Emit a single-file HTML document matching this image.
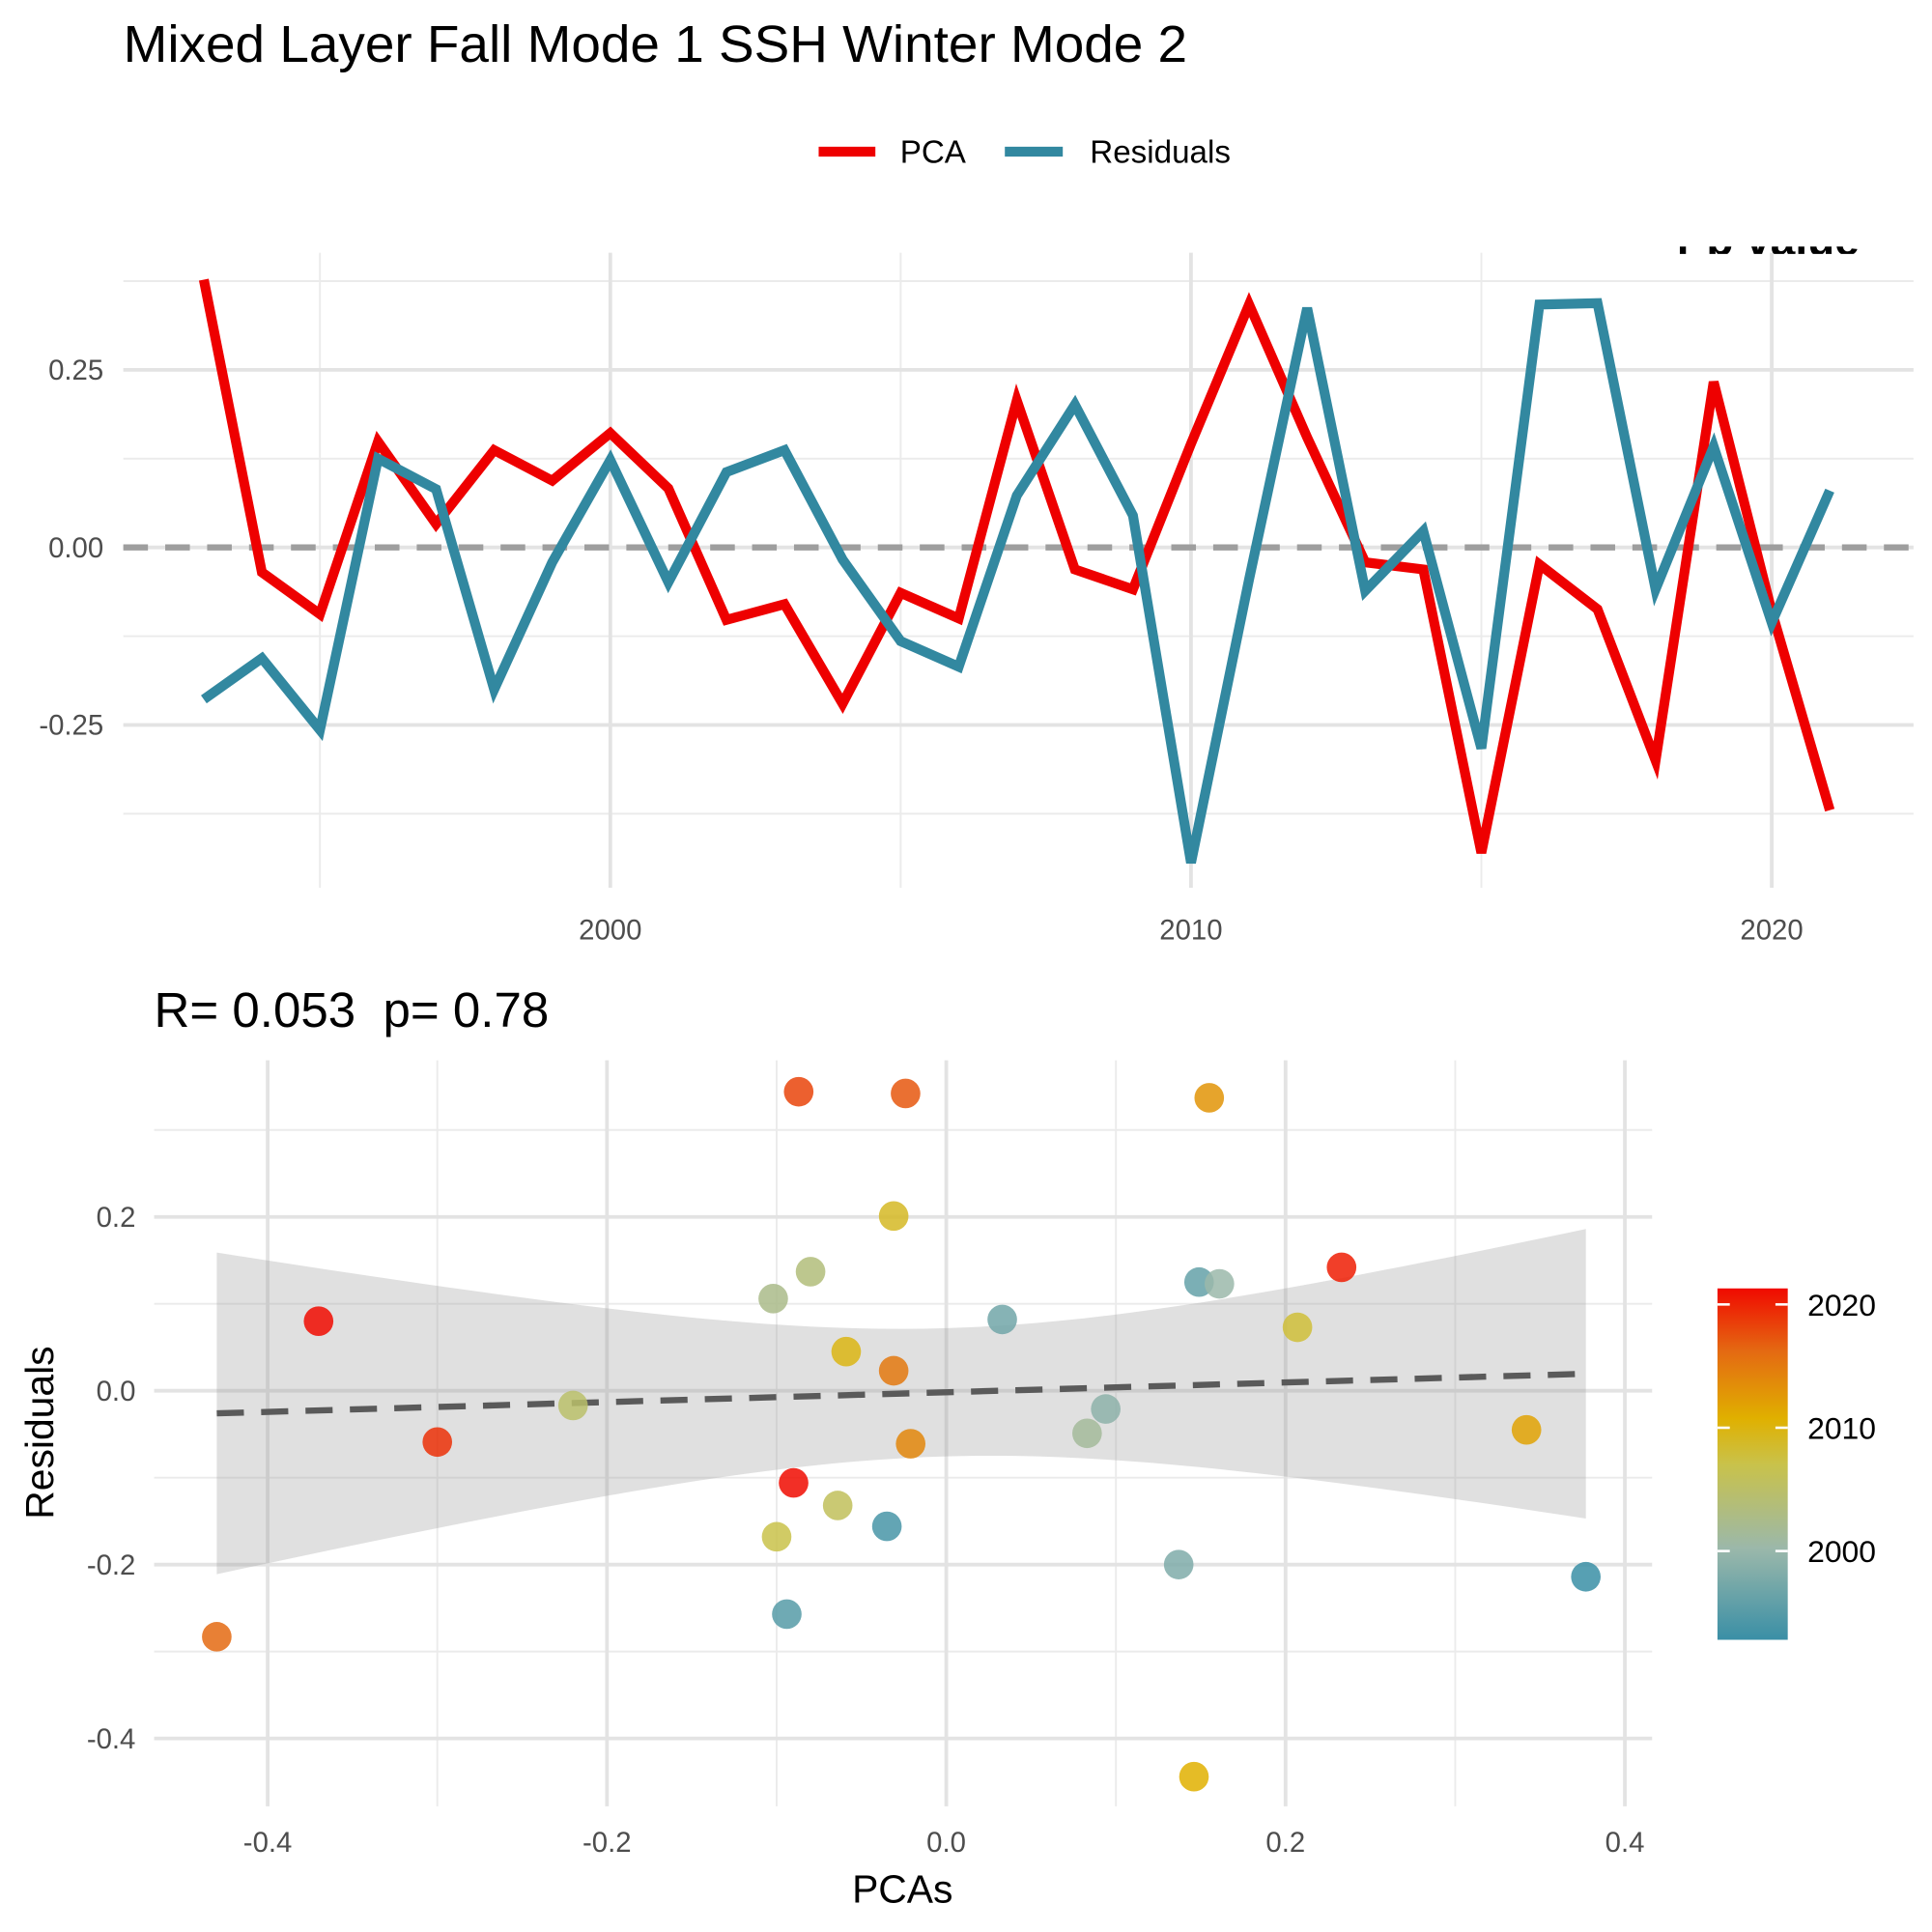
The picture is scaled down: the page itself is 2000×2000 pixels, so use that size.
<!DOCTYPE html>
<html><head><meta charset="utf-8"><style>html,body{margin:0;padding:0;background:#fff}svg{display:block}text{font-family:"Liberation Sans",Arial,sans-serif}</style></head>
<body>
<svg id="chart" width="2000" height="2000" viewBox="0 0 1567 1567" xmlns="http://www.w3.org/2000/svg">
<defs><linearGradient id="cg" x1="0" y1="1" x2="0" y2="0">
<stop offset="0" stop-color="#3A8FA6"/><stop offset="0.26" stop-color="#9BB8AA"/><stop offset="0.5" stop-color="#C9C24A"/><stop offset="0.63" stop-color="#E0B000"/><stop offset="0.82" stop-color="#E46A12"/><stop offset="1" stop-color="#F00A00"/></linearGradient>
<clipPath id="annClip" clipPathUnits="userSpaceOnUse"><rect x="1300" y="200" width="260" height="6"/></clipPath></defs>
<rect width="1567" height="1567" fill="#fff"/>
<text x="100" y="50" font-size="42" fill="#000" textLength="863" lengthAdjust="spacingAndGlyphs">Mixed Layer Fall Mode 1 SSH Winter Mode 2</text>
<g>
<line x1="664" y1="123" x2="710" y2="123" stroke="#EE0000" stroke-width="8"/>
<text x="730" y="132" font-size="26" fill="#000">PCA</text>
<line x1="815" y1="123" x2="862" y2="123" stroke="#3288A0" stroke-width="8"/>
<text x="884" y="132" font-size="26" fill="#000">Residuals</text>
</g>
<g id="topPanel"></g>
<g id="botPanel"></g>
</svg>
<script>
const years=[1993,1994,1995,1996,1997,1998,1999,2000,2001,2002,2003,2004,2005,2006,2007,2008,2009,2010,2011,2012,2013,2014,2015,2016,2017,2018,2019,2020,2021];
const pca=[0.377,-0.035,-0.094,0.149,0.033,0.137,0.094,0.161,0.083,-0.102,-0.08,-0.22,-0.064,-0.10,0.207,-0.031,-0.059,0.146,0.342,0.155,-0.021,-0.031,-0.43,-0.024,-0.087,-0.30,0.233,-0.09,-0.37];
const resid=[-0.214,-0.156,-0.257,0.125,0.082,-0.2,-0.021,0.123,-0.049,0.106,0.137,-0.017,-0.132,-0.168,0.073,0.201,0.045,-0.444,-0.045,0.337,-0.061,0.023,-0.283,0.342,0.344,-0.059,0.142,-0.106,0.08];
const topYTicks=[0.25,0,-0.25];
const topXTicks=[2000,2010,2020];
const botXTicks=[-0.4,-0.2,0,0.2,0.4];
const botYTicks=[0.2,0,-0.2,-0.4];
const cbTicks=[2000,2010,2020];
const NS="http://www.w3.org/2000/svg";
function mk(p,t,a){const e=document.createElementNS(NS,t);for(const k in a)e.setAttribute(k,a[k]);p.appendChild(e);return e;}
const topG=document.getElementById('topPanel'),botG=document.getElementById('botPanel');
const tx=y=>495+(y-2000)*47.1, ty=v=>444-v*576;
for(const v of [0.375,0.125,-0.125,-0.375]){const l=mk(topG,'line',{x1:100,x2:1552,y1:ty(v),y2:ty(v),stroke:'#ebebeb','stroke-width':1.5});}
for(const v of [1995,2005,2015]){const l=mk(topG,'line',{x1:tx(v),x2:tx(v),y1:205,y2:720,stroke:'#ebebeb','stroke-width':1.5});}
for(const v of topYTicks){const l=mk(topG,'line',{x1:100,x2:1552,y1:ty(v),y2:ty(v),stroke:'#e3e3e3','stroke-width':3});
const t=mk(topG,'text',{x:84,y:ty(v)+8,'text-anchor':'end','font-size':23,fill:'#4d4d4d'});t.textContent=v.toFixed(2);}
for(const v of topXTicks){const l=mk(topG,'line',{x1:tx(v),x2:tx(v),y1:205,y2:720,stroke:'#e3e3e3','stroke-width':3});
const t=mk(topG,'text',{x:tx(v),y:762,'text-anchor':'middle','font-size':23,fill:'#4d4d4d'});t.textContent=v;}
const zl=mk(topG,'line',{x1:100,x2:1552,y1:ty(0),y2:ty(0),stroke:'#9e9e9e','stroke-width':5,'stroke-dasharray':'20 14'});

const ann=mk(topG,'g',{'clip-path':'url(#annClip)'});
const clip=mk(ann,'text',{x:1360,y:207,'font-size':36,fill:'#000','font-weight':'bold'});clip.textContent='r p value';

const pl=mk(topG,'polyline',{points:years.map((y,i)=>tx(y)+','+ty(pca[i])).join(' '),fill:'none',stroke:'#EE0000','stroke-width':8});

const rl=mk(topG,'polyline',{points:years.map((y,i)=>tx(y)+','+ty(resid[i])).join(' '),fill:'none',stroke:'#3288A0','stroke-width':8});

const sx=v=>767.5+v*1376, sy=v=>1128-v*705;
const tt=mk(botG,'text',{x:125,y:833,'font-size':40,fill:'#000','style':'white-space:pre'});tt.textContent='R= 0.053  p= 0.78';

for(const v of [0.3,0.1,-0.1,-0.3]){const l=mk(botG,'line',{x1:125,x2:1340,y1:sy(v),y2:sy(v),stroke:'#ebebeb','stroke-width':1.5});}
for(const v of [-0.3,-0.1,0.1,0.3]){const l=mk(botG,'line',{x1:sx(v),x2:sx(v),y1:860,y2:1465,stroke:'#ebebeb','stroke-width':1.5});}
for(const v of botYTicks){const l=mk(botG,'line',{x1:125,x2:1340,y1:sy(v),y2:sy(v),stroke:'#e3e3e3','stroke-width':3});
const t=mk(botG,'text',{x:110,y:sy(v)+8,'text-anchor':'end','font-size':23,fill:'#4d4d4d'});t.textContent=v.toFixed(1);}
for(const v of botXTicks){const l=mk(botG,'line',{x1:sx(v),x2:sx(v),y1:860,y2:1465,stroke:'#e3e3e3','stroke-width':3});
const t=mk(botG,'text',{x:sx(v),y:1502,'text-anchor':'middle','font-size':23,fill:'#4d4d4d'});t.textContent=v.toFixed(1);}
const n=pca.length,mx=pca.reduce((a,b)=>a+b)/n,my=resid.reduce((a,b)=>a+b)/n;
let sxx=0,sxy=0;for(let i=0;i<n;i++){sxx+=(pca[i]-mx)**2;sxy+=(pca[i]-mx)*(resid[i]-my);}
const sl=sxy/sxx,ic=my-sl*mx;let sse=0;for(let i=0;i<n;i++)sse+=(resid[i]-ic-sl*pca[i])**2;
const sd=Math.sqrt(sse/(n-2)),tq=2.052;
const x0=Math.min(...pca),x1=Math.max(...pca),up=[],lo=[];
for(let k=0;k<=60;k++){const x=x0+(x1-x0)*k/60,f=ic+sl*x,h=tq*sd*Math.sqrt(1/n+(x-mx)**2/sxx);up.push(sx(x)+','+sy(f+h));lo.unshift(sx(x)+','+sy(f-h));}
const band=mk(botG,'polygon',{points:up.concat(lo).join(' '),fill:'#999','fill-opacity':0.3});

const rg=mk(botG,'line',{x1:sx(x0),y1:sy(ic+sl*x0),x2:sx(x1),y2:sy(ic+sl*x1),stroke:'#5a5a5a','stroke-width':5,'stroke-dasharray':'22 14'});

const stops=[[1993,[58,143,166]],[2000,[155,184,170]],[2006,[201,194,74]],[2010,[224,176,0]],[2015,[228,106,18]],[2020,[240,10,0]],[2021,[240,10,0]]];
function col(y){for(let i=0;i<stops.length-1;i++){const[a0,c0]=stops[i],[a1,c1]=stops[i+1];if(y<=a1){const t=(y-a0)/(a1-a0);return 'rgb('+c0.map((c,j)=>Math.round(c+(c1[j]-c)*t)).join(',')+')';}}return 'red';}
years.forEach((y,i)=>{const c=mk(botG,'circle',{cx:sx(pca[i]),cy:sy(resid[i]),r:12,fill:col(y),'fill-opacity':0.85});
});
const xl=mk(botG,'text',{x:732,y:1543,'text-anchor':'middle','font-size':32,fill:'#000'});xl.textContent='PCAs';

const yl=mk(botG,'text',{x:43,y:1162,'text-anchor':'middle','font-size':32,fill:'#000',transform:'rotate(-90 43 1162)'});yl.textContent='Residuals';

const cy=y=>1258-(y-2000)*10;
const cb=mk(botG,'rect',{x:1393,y:cy(2021.3),width:57,height:cy(1992.8)-cy(2021.3),fill:'url(#cg)'});

for(const v of cbTicks){mk(botG,'line',{x1:1393,x2:1403,y1:cy(v),y2:cy(v),stroke:'#fff','stroke-width':2});mk(botG,'line',{x1:1440,x2:1450,y1:cy(v),y2:cy(v),stroke:'#fff','stroke-width':2});
const t=mk(botG,'text',{x:1466,y:cy(v)+9,'font-size':25,fill:'#000'});t.textContent=v;}
</script>
</body></html>
